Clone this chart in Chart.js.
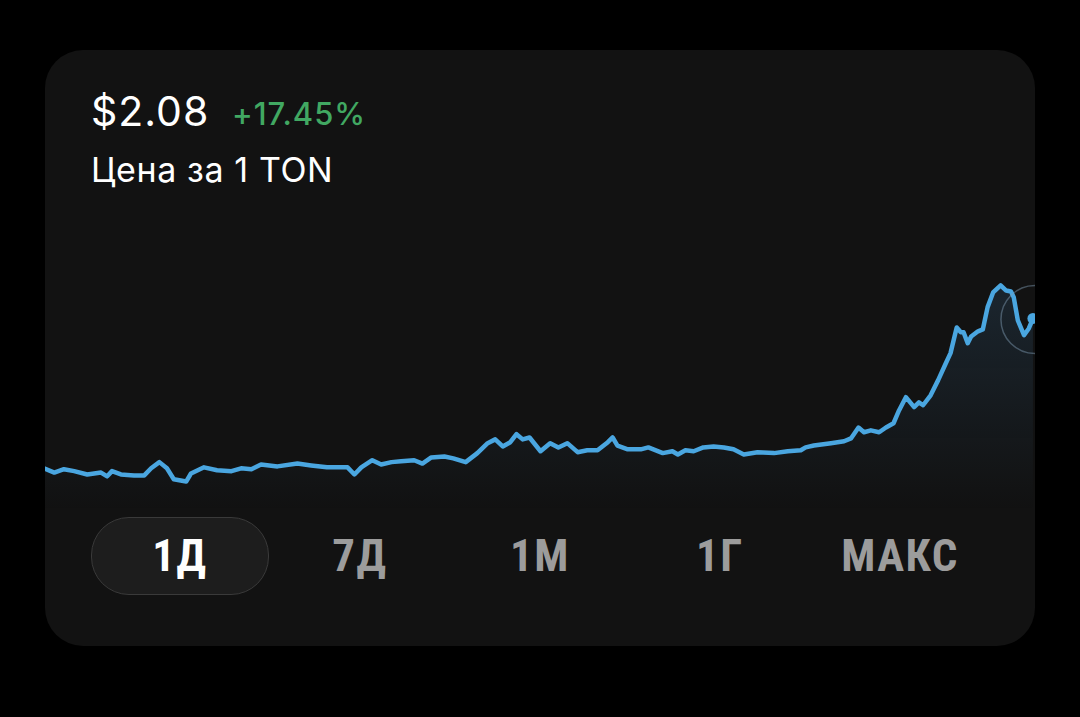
<!DOCTYPE html>
<html><head><meta charset="utf-8">
<script src="https://cdn.jsdelivr.net/npm/chart.js@4.4.1/dist/chart.umd.min.js"></script>
<style>
html,body{margin:0;padding:0;background:#000;width:1080px;height:717px;overflow:hidden;font-family:"Inter","Roboto",sans-serif;}
#card{position:absolute;left:45px;top:50px;width:990px;height:596px;background:#121212;border-radius:38px;overflow:hidden;}
#price{position:absolute;left:46px;top:36px;color:#fff;font-size:41px;font-family:"Inter",sans-serif;font-weight:400;letter-spacing:1px;}
#chg{position:absolute;left:187px;top:45px;color:#41a862;font-size:31px;font-family:"Inter",sans-serif;font-weight:500;letter-spacing:1px;}
#sub{position:absolute;left:46px;top:99px;color:#fff;font-size:34px;font-family:"Inter",sans-serif;letter-spacing:0.6px;}
#wrap{position:absolute;left:-1px;top:150px;width:991px;height:310px;}
.btn{position:absolute;top:468px;height:76px;line-height:76px;text-align:center;font-family:"Liberation Sans Narrow","Roboto Condensed",sans-serif;font-weight:700;font-size:45px;color:#9c9c9c;letter-spacing:1.5px;}
#b1{left:46px;width:176px;border:1.5px solid #3a3a3a;background:#1d1d1d;border-radius:38px;color:#fff;top:467px;}
</style></head>
<body>
<div id="card">
  <div id="price">$2.08</div>
  <div id="chg">+17.45%</div>
  <div id="sub">Цена за 1 TON</div>
  <div id="wrap"><canvas id="c"></canvas></div>
  <div class="btn" id="b1">1Д</div>
  <div class="btn" style="left:255px;width:120px;">7Д</div>
  <div class="btn" style="left:435px;width:120px;">1М</div>
  <div class="btn" style="left:615px;width:120px;">1Г</div>
  <div class="btn" style="left:775px;width:160px;">МАКС</div>
</div>
<script>
const minutes = [0,15,29,44,63,83,92,99,112,131,146,156,168,179,189,207,214,233,252,273,287,302,316,340,369,389,412,442,452,462,478,491,506,520,539,551,564,583,596,614,631,646,657,668,679,688,697,707,723,737,749,762,777,791,806,821,828,835,850,869,880,901,915,923,934,946,960,975,990,1004,1019,1039,1063,1083,1102,1109,1121,1146,1165,1175,1186,1194,1204,1216,1226,1237,1245,1255,1267,1274,1280,1291,1302,1313,1320,1329,1335,1339,1345,1350,1360,1367,1374,1382,1393,1401,1408,1412,1418,1427,1434,1440];
const prices = [1.768,1.759,1.766,1.762,1.755,1.759,1.751,1.762,1.755,1.753,1.753,1.768,1.781,1.768,1.745,1.740,1.757,1.770,1.764,1.762,1.768,1.766,1.776,1.772,1.778,1.774,1.770,1.770,1.755,1.770,1.785,1.776,1.781,1.783,1.785,1.778,1.791,1.793,1.789,1.781,1.800,1.821,1.829,1.814,1.823,1.840,1.829,1.833,1.804,1.821,1.812,1.821,1.802,1.806,1.806,1.823,1.833,1.816,1.808,1.808,1.812,1.800,1.804,1.797,1.806,1.804,1.812,1.814,1.812,1.808,1.797,1.802,1.800,1.804,1.806,1.812,1.816,1.821,1.825,1.831,1.854,1.844,1.848,1.844,1.854,1.863,1.890,1.918,1.897,1.907,1.901,1.922,1.954,1.989,2.011,2.065,2.055,2.055,2.032,2.046,2.057,2.061,2.108,2.139,2.154,2.143,2.141,2.129,2.080,2.049,2.063,2.084];
const lineColor = '#4aa6e0';

const pts = minutes.map((m,i)=>({x:m,y:prices[i]}));
const halo = {
  id:'halo',
  afterDatasetsDraw(chart){
    const meta = chart.getDatasetMeta(0);
    const p = meta.data[meta.data.length-1];
    const ctx = chart.ctx;
    ctx.save();
    ctx.beginPath();
    ctx.arc(p.x+2, p.y+1, 34, 0, Math.PI*2);
    ctx.strokeStyle = 'rgba(130,160,185,0.45)';
    ctx.lineWidth = 1.5;
    ctx.stroke();
    ctx.restore();
  }
};
new Chart(document.getElementById('c'), {
  type:'line',
  data:{datasets:[{
    data:pts,
    borderColor:lineColor,
    borderWidth:4.5,
    borderJoinStyle:'round',
    borderCapStyle:'round',
    tension:0,
    pointRadius:pts.map((_,i)=>i===pts.length-1?5.5:0),
    pointBackgroundColor:lineColor,
    pointBorderWidth:0,
    fill:'start',
    backgroundColor(ctx){
      const ca = ctx.chart.chartArea;
      if(!ca) return 'rgba(0,0,0,0)';
      const g = ctx.chart.ctx.createLinearGradient(0, ca.top+80, 0, ca.bottom);
      g.addColorStop(0,'rgba(70,130,180,0.18)');
      g.addColorStop(1,'rgba(70,130,180,0)');
      return g;
    }
  }]},
  options:{
    responsive:true, maintainAspectRatio:false, animation:false,
    layout:{padding:0, autoPadding:false},
    clip:false,
    plugins:{legend:{display:false},tooltip:{enabled:false}},
    scales:{
      x:{type:'linear',min:0,max:1443,display:false},
      y:{min:1.68,max:2.334,display:false}
    }
  },
  plugins:[halo]
});
</script>
</body></html>
